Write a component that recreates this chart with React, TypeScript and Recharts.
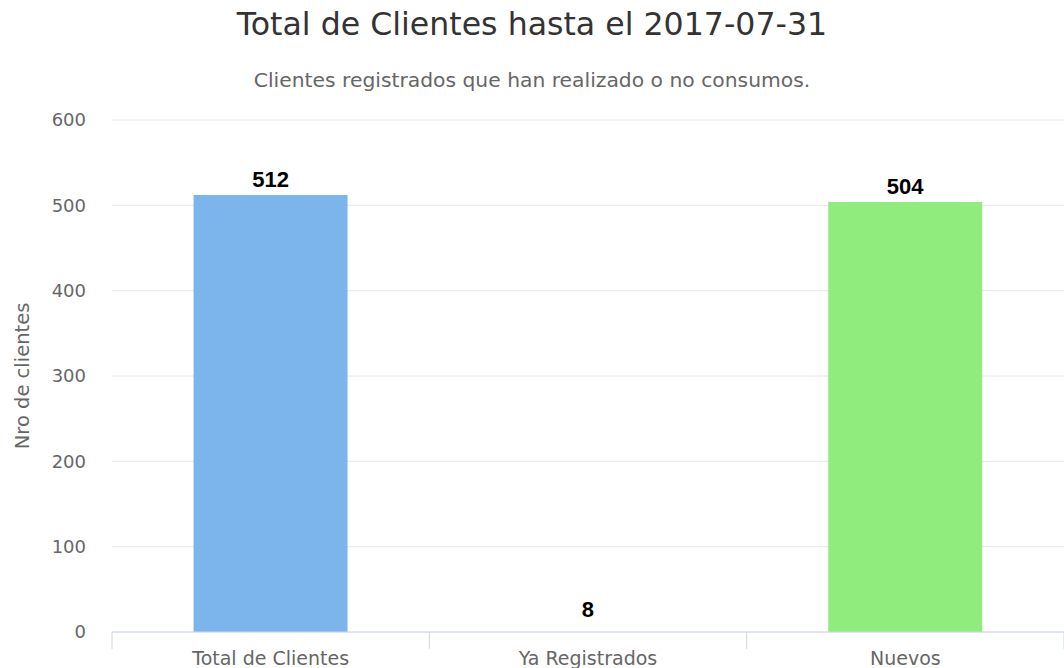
import { BarChart, Bar, XAxis, YAxis, CartesianGrid, LabelList, Cell } from "recharts";

const categories = ["Total de Clientes", "Ya Registrados", "Nuevos"];
const clientCounts = [512, 8, 504];
const barColors = ["#7cb5ec", "transparent", "#90ed7d"];
const yTicks = [0, 100, 200, 300, 400, 500, 600];

const FONT = '"DejaVu Sans", Verdana, sans-serif';

const data = categories.map((name, i) => ({ name, clientes: clientCounts[i] }));

// category ticks sit on band edges, like the original
function CategoryTick(props: any) {
  const { x, y, payload, index, visibleTicksCount } = props;
  const half = payload.offset || 0;
  return (
    <g>
      <line x1={x - half} x2={x - half} y1={y} y2={y + 17} stroke="#ccd6eb" />
      {index === visibleTicksCount - 1 && (
        <line x1={x + half} x2={x + half} y1={y} y2={y + 17} stroke="#ccd6eb" />
      )}
      <text x={x} y={y + 33} textAnchor="middle" fill="#666666" fontSize={19} fontFamily={FONT}>
        {payload.value}
      </text>
    </g>
  );
}

export default function App() {
  return (
    <div style={{ position: "relative", width: 1064, height: 668, background: "#fff", overflow: "hidden" }}>
      <style>{`body{margin:0}`}</style>
      <svg width={1064} height={100} style={{ position: "absolute", top: 0, left: 0 }}>
        <text x={532} y={35} textAnchor="middle" fontFamily={FONT} fontSize={31.6} fill="#333333">
          Total de Clientes hasta el 2017-07-31
        </text>
        <text x={532} y={87} textAnchor="middle" fontFamily={FONT} fontSize={20.3} fill="#666666">
          Clientes registrados que han realizado o no consumos.
        </text>
      </svg>
      <div style={{ position: "absolute", top: 0, left: 0 }}>
        <BarChart
          width={1064}
          height={668}
          data={data}
          margin={{ top: 120, right: 0, bottom: 0, left: 0 }}
          barCategoryGap="25.7%"
        >
          <CartesianGrid vertical={false} stroke="#e6e6e6" />
          <XAxis
            dataKey="name"
            height={36}
            axisLine={{ stroke: "#ccd6eb" }}
            tickLine={false}
            tickSize={0}
            tickMargin={0}
            tick={<CategoryTick />}
            interval={0}
          />
          <YAxis
            width={112}
            domain={[0, 600]}
            ticks={yTicks}
            axisLine={false}
            tickLine={false}
            tickSize={0}
            tickMargin={26}
            tick={{ fill: "#666666", fontSize: 18, fontFamily: FONT }}
            label={{
              value: "Nro de clientes",
              angle: -90,
              position: "insideLeft",
              offset: 22,
              style: { textAnchor: "middle", fill: "#666666", fontSize: 19.5, fontFamily: FONT },
            }}
          />
          <Bar dataKey="clientes" isAnimationActive={false}>
            {data.map((d, i) => (
              <Cell key={d.name} fill={barColors[i]} />
            ))}
            <LabelList
              dataKey="clientes"
              position="top"
              offset={8}
              fill="#000000"
              fontSize={22}
              fontWeight="bold"
              fontFamily='"Liberation Sans", Arial, sans-serif'
            />
          </Bar>
        </BarChart>
      </div>
    </div>
  );
}
